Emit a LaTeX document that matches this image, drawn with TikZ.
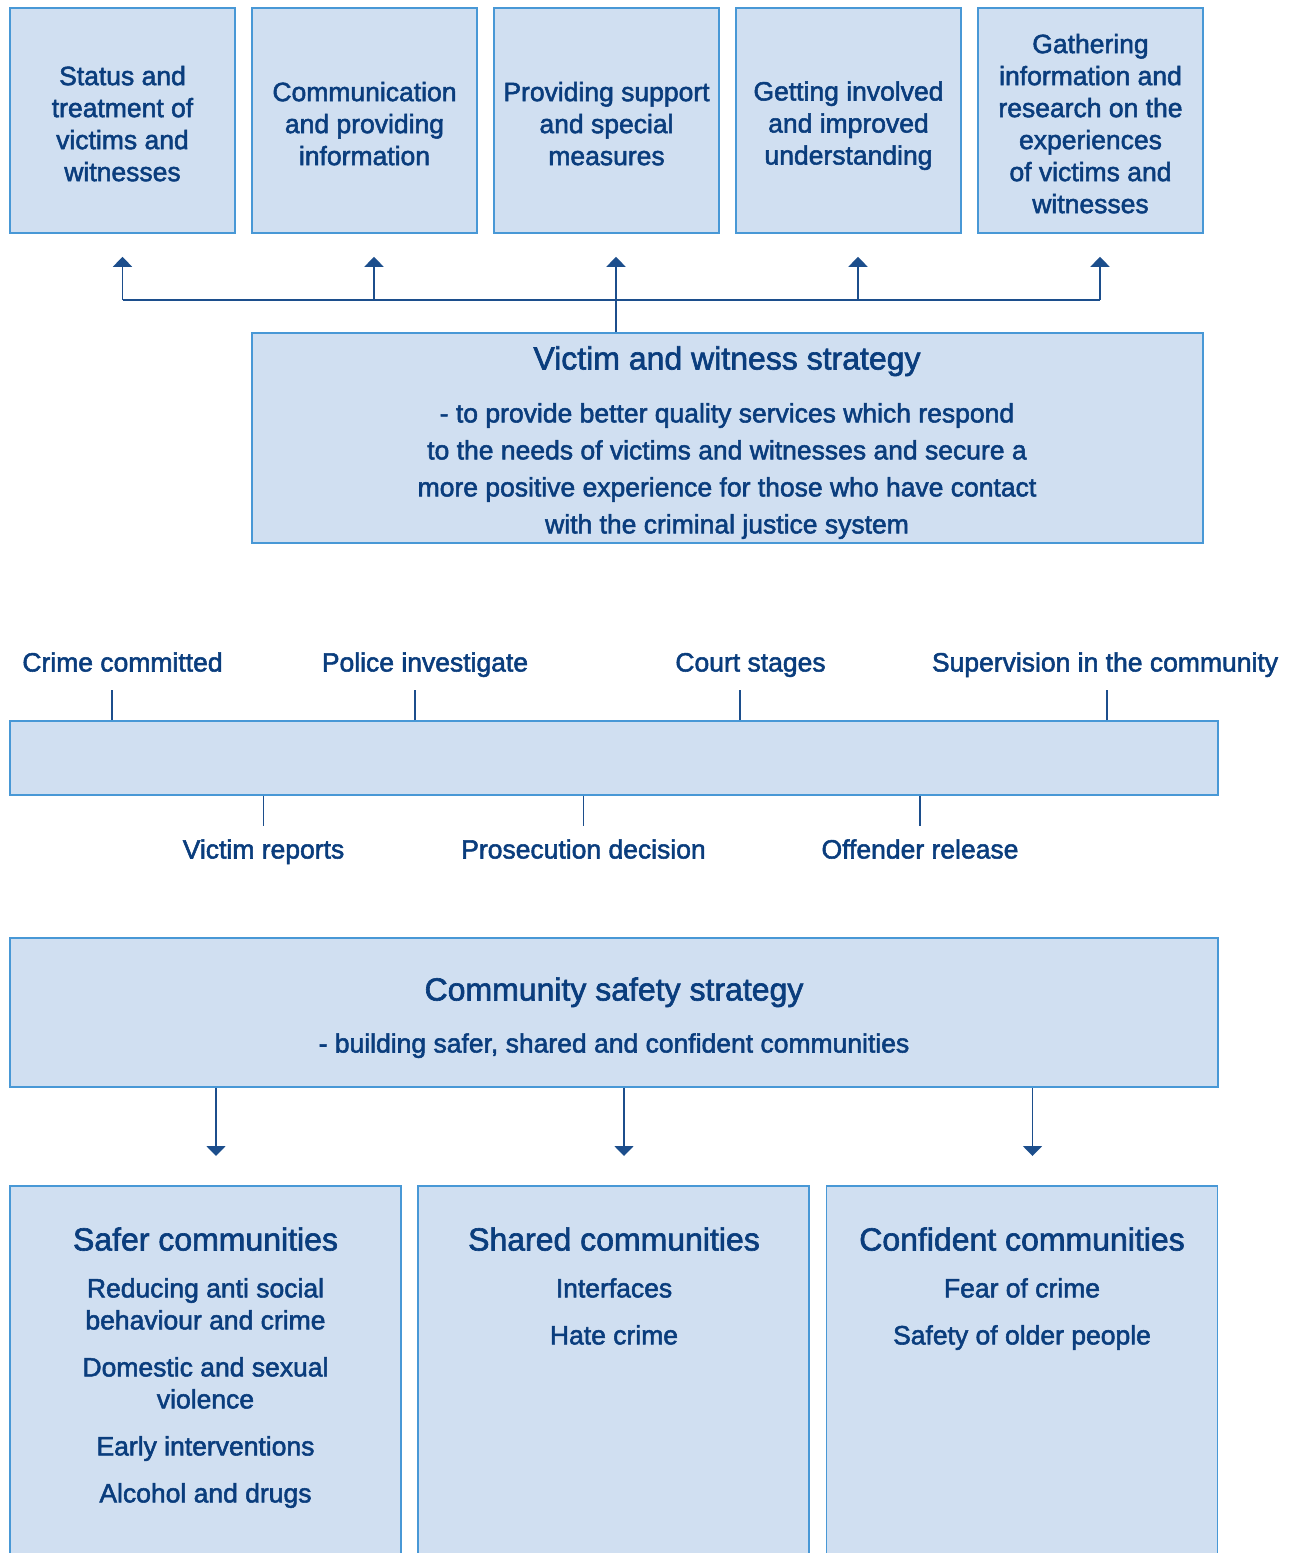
\documentclass[tikz,border=0pt]{standalone}
\usepackage{fontspec}
\setmainfont{Liberation Sans}[RawFeature={embolden=2}]
\usetikzlibrary{arrows.meta,positioning}
\definecolor{Panel}{RGB}{208,223,241}
\definecolor{Rule}{RGB}{72,152,214}
\definecolor{Ink}{RGB}{10,61,125}
\definecolor{Wire}{RGB}{28,78,140}

\tikzset{
  box/.style={draw=Rule,line width=1.6pt,fill=Panel,text=Ink,align=center,inner sep=0pt},
  txt/.style={text=Ink,font=\fontsize{26.5}{32}\selectfont,inner sep=0pt},
  body/.style={txt,align=center,anchor=north},
  head/.style={text=Ink,font=\fontsize{32}{38}\selectfont,inner sep=0pt,anchor=base},
  wire/.style={draw=Wire,line width=1.8pt},
  arrow/.style={wire,-{Triangle[width=19pt,length=10pt]}},
  tickmark/.style={draw=Wire,line width=1.5pt}
}
\newcommand\lift[1]{\rule{0pt}{#1}}

\begin{document}
\begin{tikzpicture}[x=1pt,y=-1pt]
  \useasboundingbox (0,0) rectangle (1297,1553);
  \clip (0,0) rectangle (1297,1553);

  \node[box,txt,minimum width=225pt,minimum height=225pt] (aim1) at (122.5,120.5) {\lift{25.5pt}Status and\\treatment of\\victims and\\witnesses};
  \node[box,txt,minimum width=225pt,minimum height=225pt] (aim2) at (364.5,120.5) {\lift{25.5pt}Communication\\and providing\\information};
  \node[box,txt,minimum width=225pt,minimum height=225pt] (aim3) at (606.5,120.5) {\lift{25.5pt}Providing support\\and special\\measures};
  \node[box,txt,minimum width=225pt,minimum height=225pt] (aim4) at (848.5,120.5) {\lift{29.5pt}Getting involved\\and improved\\understanding};
  \node[box,txt,minimum width=225pt,minimum height=225pt] (aim5) at (1090.5,120.5) {\lift{25.5pt}Gathering\\information and\\research on the\\experiences\\of victims and\\witnesses};

  \node[box,minimum width=951pt,minimum height=210pt] (vws) at (727.5,438) {};
  \node[head] (vwstitle) at (727,369.5) {Victim and witness strategy};
  \node[body,font=\fontsize{26.5}{37}\selectfont] (vwsaim) at (727,403) {- to provide better quality services which respond\\to the needs of victims and witnesses and secure a\\more positive experience for those who have contact\\with the criminal justice system};

  \coordinate (fork) at (616,300);
  \draw[wire] (vws.north -| fork) -- (fork);
  \draw[wire] (aim1.south |- fork) -- ([xshift=9.5pt]aim5.south |- fork);
  \foreach \a/\dx in {aim1/0,aim2/9.5,aim3/9.5,aim4/9.5,aim5/9.5}
    \draw[arrow] ([xshift=\dx pt]\a.south |- fork) -- ([xshift=\dx pt,yshift=-23pt]\a.south);

  \node[txt,anchor=base] (crime) at (122.5,671.5) {Crime committed};
  \node[txt,anchor=base] (police) at (425,671.5) {Police investigate};
  \node[txt,anchor=base] (court) at (750.5,671.5) {Court stages};
  \node[txt,anchor=base] (superv) at (1105,671.5) {Supervision in the community};
  \node[box,minimum width=1208pt,minimum height=74pt] (bar) at (614,758) {};
  \node[txt,anchor=base] (report) at (263.5,858.5) {Victim reports};
  \node[txt,anchor=base] (prosec) at (583.5,858.5) {Prosecution decision};
  \node[txt,anchor=base] (release) at (920,858.5) {Offender release};
  \foreach \l/\dx in {crime/-10.5,police/-10,court/-10.5,superv/2}
    \draw[tickmark] ([xshift=\dx pt]bar.north -| \l) -- ++(0,-30);
  \foreach \l in {report,prosec,release}
    \draw[tickmark] (bar.south -| \l) -- ++(0,30);

  \node[box,minimum width=1208pt,minimum height=149pt] (cs) at (614,1012.5) {};
  \node[head] (cstitle) at (614,1000.5) {Community safety strategy};
  \node[txt,anchor=base] (csaim) at (614,1052.5) {- building safer, shared and confident communities};

  \node[box,minimum width=391pt,minimum height=415pt,anchor=north] (safer) at (205.5,1185) {};
  \node[box,minimum width=391pt,minimum height=415pt,anchor=north] (shared) at (613.5,1185) {};
  \node[box,minimum width=391pt,minimum height=415pt,anchor=north] (confident) at (1022,1185) {};
  \foreach \b in {safer,shared,confident}
    \draw[arrow] ([xshift=10.5pt]\b.north |- cs.south) -- ([xshift=10.5pt,yshift=29pt]\b.north);

  \node[head] (safertitle) at (205.5,1250.5) {Safer communities};
  \node[body] (saferlist) at (205.5,1278) {Reducing anti social\\behaviour and crime\\[15pt]Domestic and sexual\\violence\\[15pt]Early interventions\\[15pt]Alcohol and drugs};
  \node[head] (sharedtitle) at (614,1250.5) {Shared communities};
  \node[body] (sharedlist) at (614,1278) {Interfaces\\[15pt]Hate crime};
  \node[head] (conftitle) at (1022,1250.5) {Confident communities};
  \node[body] (conflist) at (1022,1278) {Fear of crime\\[15pt]Safety of older people};
\end{tikzpicture}
\end{document}
